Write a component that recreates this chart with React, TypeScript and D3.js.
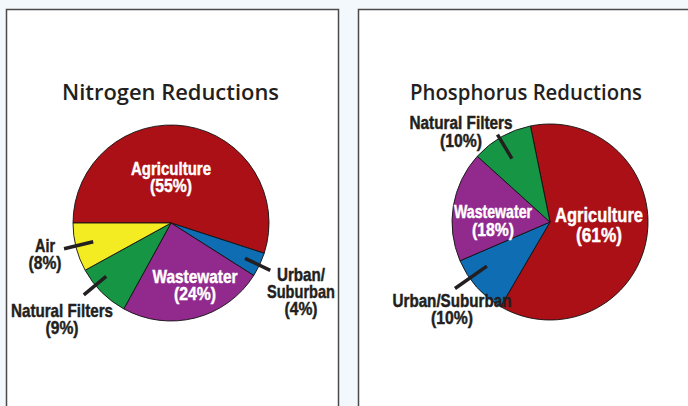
import React from "react";
import * as d3 from "d3";

const nitrogenCategories = ["Agriculture", "Urban/Suburban", "Wastewater", "Natural Filters", "Air"];
const nitrogenValues = [55, 4, 24, 9, 8];
const phosphorusCategories = ["Agriculture", "Urban/Suburban", "Wastewater", "Natural Filters"];
const phosphorusValues = [61, 10, 18, 10];

const colors: Record<string, string> = {
  Agriculture: "#ab1016",
  "Urban/Suburban": "#0f6db3",
  Wastewater: "#922a8e",
  "Natural Filters": "#169545",
  Air: "#f3ec22",
};

const DARK = "#231f20";
const LABEL_FONT = "'Liberation Sans', Arial, sans-serif";
const TITLE_FONT = "'Open Sans', 'Noto Sans', sans-serif";

type LabelSpec = {
  cat: string;
  lines: string[];
  widths: number[];
  dx: number; // offset of text center from pie center
  dy: number; // baseline of first line from pie center
  white: boolean;
  size: number;
  lh: number;
  leader?: { angle: number; r1: number; r2: number };
};

const nitrogenLabels: LabelSpec[] = [
  { cat: "Agriculture", lines: ["Agriculture", "(55%)"], widths: [80, 42], dx: 0, dy: -48, white: true, size: 18.5, lh: 17 },
  { cat: "Wastewater", lines: ["Wastewater", "(24%)"], widths: [85, 42], dx: 24, dy: 60, white: true, size: 18.5, lh: 17 },
  { cat: "Air", lines: ["Air", "(8%)"], widths: [20, 33], dx: -126, dy: 29, white: false, size: 18.5, lh: 17, leader: { angle: 256.5, r1: 80, r2: 110 } },
  { cat: "Natural Filters", lines: ["Natural Filters", "(9%)"], widths: [102, 33], dx: -109, dy: 94, white: false, size: 18.5, lh: 17, leader: { angle: 230.5, r1: 84, r2: 113 } },
  { cat: "Urban/Suburban", lines: ["Urban/", "Suburban", "(4%)"], widths: [48, 68, 33], dx: 130, dy: 58, white: false, size: 18.5, lh: 17, leader: { angle: 115.5, r1: 82, r2: 110 } },
];

const phosphorusLabels: LabelSpec[] = [
  { cat: "Agriculture", lines: ["Agriculture", "(61%)"], widths: [88, 46], dx: 49, dy: 0, white: true, size: 20.5, lh: 20 },
  { cat: "Wastewater", lines: ["Wastewater", "(18%)"], widths: [78, 42], dx: -57, dy: -4, white: true, size: 17.5, lh: 18 },
  { cat: "Natural Filters", lines: ["Natural Filters", "(10%)"], widths: [103, 42], dx: -89, dy: -93, white: false, size: 17.5, lh: 18, leader: { angle: 329, r1: 74, r2: 102 } },
  { cat: "Urban/Suburban", lines: ["Urban/Suburban", "(10%)"], widths: [119, 42], dx: -98, dy: 85, white: false, size: 17.5, lh: 17, leader: { angle: 235, r1: 77, r2: 116 } },
];

function Pie({ cx, cy, r, title, titleX, titleW, cats, vals, startDeg, labels }: {
  cx: number; cy: number; r: number; title: string; titleX: number; titleW: number;
  cats: string[]; vals: number[]; startDeg: number; labels: LabelSpec[];
}) {
  const data = cats.map((c, i) => ({ cat: c, value: vals[i] }));
  const start = (startDeg * Math.PI) / 180;
  const pie = d3.pie<{ cat: string; value: number }>().sort(null).value(d => d.value)
    .startAngle(start).endAngle(start + 2 * Math.PI);
  const arc = d3.arc<d3.PieArcDatum<{ cat: string; value: number }>>().innerRadius(0).outerRadius(r);
  const arcs = pie(data);
  return (
    <g>
      <text x={titleX} y={100} textAnchor="middle" fontFamily={TITLE_FONT} fontWeight={600} fontSize={21}
        fill={DARK} textLength={titleW} lengthAdjust="spacingAndGlyphs">{title}</text>
      <g transform={`translate(${cx},${cy})`}>
        {arcs.map(a => (
          <path key={a.data.cat} d={arc(a) || ""} fill={colors[a.data.cat]} stroke="#111" strokeWidth={0.9} strokeLinejoin="round" />
        ))}
        {labels.map(l => {
          const ld = l.leader;
          let line = null;
          if (ld) {
            const t = (ld.angle * Math.PI) / 180;
            line = (
              <line x1={Math.sin(t) * ld.r1} y1={-Math.cos(t) * ld.r1} x2={Math.sin(t) * ld.r2} y2={-Math.cos(t) * ld.r2}
                stroke={DARK} strokeWidth={3.5} />
            );
          }
          const c = l.white ? "#ffffff" : DARK;
          return (
            <g key={l.cat}>
              {line}
              {l.lines.map((s, i) => (
                <text key={i} x={l.dx} y={l.dy + i * l.lh} textAnchor="middle" fontFamily={LABEL_FONT} fontWeight={700}
                  fontSize={l.size} fill={c} stroke={c} strokeWidth={0.45}
                  textLength={l.widths[i]} lengthAdjust="spacingAndGlyphs">{s}</text>
              ))}
            </g>
          );
        })}
      </g>
    </g>
  );
}

export default function App() {
  return (
    <div style={{ position: "fixed", left: 0, top: 0 }}>
      <svg width={688} height={406} style={{ display: "block" }}>
        <rect x={0} y={0} width={688} height={406} fill="#f3f8fc" />
        <rect x={6.5} y={9.5} width={332} height={420} fill="#ffffff" stroke="#4a4a4a" strokeWidth={1.5} />
        <rect x={358.5} y={9.5} width={340} height={420} fill="#ffffff" stroke="#4a4a4a" strokeWidth={1.5} />
        <Pie cx={171} cy={223} r={98} title="Nitrogen Reductions" titleX={170.5} titleW={217} cats={nitrogenCategories}
          vals={nitrogenValues} startDeg={-90} labels={nitrogenLabels} />
        <Pie cx={550} cy={222} r={98} title="Phosphorus Reductions" titleX={526} titleW={232} cats={phosphorusCategories}
          vals={phosphorusValues} startDeg={-11.5} labels={phosphorusLabels} />
      </svg>
    </div>
  );
}
